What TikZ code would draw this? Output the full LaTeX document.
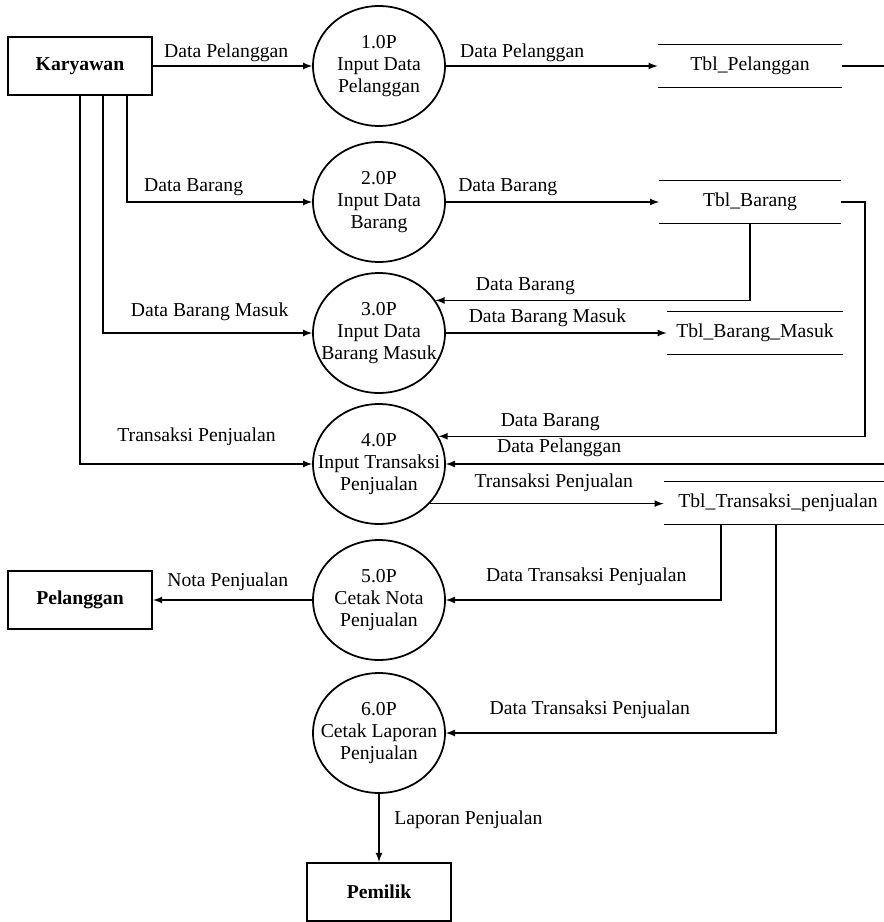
\documentclass[tikz,border=0pt]{standalone}
\usepackage{fontspec}
\setmainfont{Liberation Serif}
\usetikzlibrary{shapes.geometric}

\begin{document}
\begin{tikzpicture}
[x=0.02cm, y=-0.02cm,
 txtFont/.style={font=\fontsize{11.2}{12.3}\selectfont},
 flowLine/.style={-latex, line width=0.8pt},
 flowLabel/.style={txtFont, above, inner sep=3pt},
 entityBox/.style={draw, line width=1.2pt, minimum width=2.88cm, minimum height=1.16cm, font=\fontsize{11.2}{12.3}\selectfont\bfseries},
 processNode/.style={txtFont, shape=ellipse, draw, line width=1pt, minimum width=2.64cm, minimum height=2.4cm, inner xsep=-0.5cm, inner ysep=0pt, align=center},
 storeNode/.style={txtFont, inner sep=0pt, minimum height=0.84cm,
   append after command={(\tikzlastnode.north west) edge[-, line width=0.8pt] (\tikzlastnode.north east)
                         (\tikzlastnode.south west) edge[-, line width=0.8pt] (\tikzlastnode.south east)}}]

 \useasboundingbox (0,0) rectangle (884,922);
 \clip (0,0) rectangle (884,922);

 \foreach \nodename/\x/\y/\etext in {
K/80/66/Karyawan,
P/80/600/Pelanggan,
M/379/892/Pemilik
 }
 {
          \node (\nodename) at (\x,\y) [entityBox] {\etext};
 }

 \foreach \nodename/\y/\pnum/\ptop/\pbot in {
C1/66/1.0P/Input Data/Pelanggan,
C2/202/2.0P/Input Data/Barang,
C3/333/3.0P/Input Data/Barang Masuk,
C4/464/4.0P/Input Transaksi/Penjualan,
C5/600/5.0P/Cetak Nota/Penjualan,
C6/733/6.0P/Cetak Laporan/Penjualan
 }
 {
          \node (\nodename) at (379,\y) [processNode] {\pnum\\\ptop\\\pbot};
 }

 \foreach \nodename/\x/\y/\w/\stext in {
S1/750/66/3.68/Tbl\_Pelanggan,
S2/750/202/3.62/Tbl\_Barang,
S3/755/333/3.52/Tbl\_Barang\_Masuk,
S4/778/503/4.56/Tbl\_Transaksi\_penjualan
 }
 {
          \node (\nodename) at (\x,\y) [storeNode, minimum width=\w cm] {\stext};
 }

\draw[flowLine] (K) -- node[flowLabel, pos=0.46, yshift=-1pt] {Data Pelanggan} (C1);
\draw[flowLine] (C1) -- node[flowLabel, pos=0.36, yshift=-1pt] {Data Pelanggan} (S1);
\draw[flowLine] ([xshift=0.94cm]K.south) |- node[flowLabel, pos=0.68] {Data Barang} (C2);
\draw[flowLine] (C2) -- node[flowLabel, pos=0.29] {Data Barang} (S2);
\draw[flowLine] (S2.south) |- node[flowLabel, pos=0.857] {Data Barang} (C3.30);
\draw[flowLine] ([xshift=0.46cm]K.south) |- node[flowLabel, pos=0.755, yshift=3.5pt] {Data Barang Masuk} (C3);
\draw[flowLine] (C3) -- node[flowLabel, pos=0.46] {Data Barang Masuk} (S3);
\draw[flowLine] (S2.east) -- ++(24,0) |- node[flowLabel, pos=0.869] {Data Barang} (C4.25);
\draw[flowLine] (K.south) |- node[flowLabel, pos=0.751, yshift=7pt] {Transaksi Penjualan} (C4);
\draw[flowLine] (S1.east) -- ++(60,0) |- node[flowLabel, pos=0.876, yshift=1pt] {Data Pelanggan} (C4);
\draw[flowLine] (C4.-38) -- node[flowLabel, pos=0.53, yshift=3.5pt] {Transaksi Penjualan} (C4.-38 -| S4.west);
\draw[flowLine] ([xshift=-1.14cm]S4.south) |- node[flowLabel, pos=0.745, yshift=4.5pt] {Data Transaksi Penjualan} (C5);
\draw[flowLine] ([xshift=-0.04cm]S4.south) |- node[flowLabel, pos=0.782, yshift=4.5pt] {Data Transaksi Penjualan} (C6);
\draw[flowLine] (C5) -- node[flowLabel, pos=0.53, yshift=2pt] {Nota Penjualan} (P);
\draw[flowLine] (C6) -- node[txtFont, right, pos=0.38, xshift=5pt] {Laporan Penjualan} (M);
        \end{tikzpicture}
\end{document}
